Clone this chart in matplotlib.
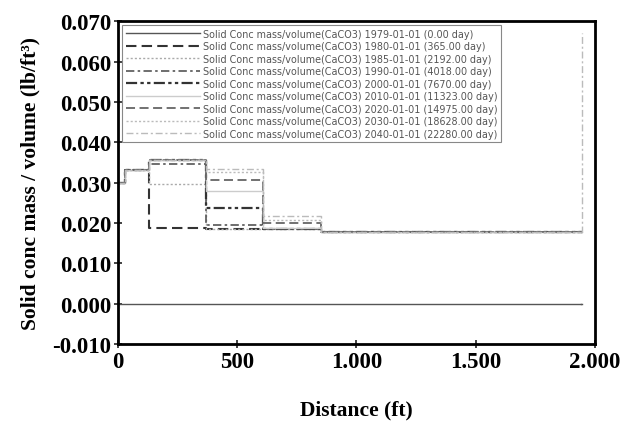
import matplotlib
matplotlib.use("Agg")
import matplotlib.pyplot as plt
from matplotlib.ticker import FuncFormatter

# Cell boundaries along the flow path (ft)
cell_edges = [0, 30, 130, 370, 610, 850, 1940]

labels = [
    "Solid Conc mass/volume(CaCO3) 1979-01-01 (0.00 day)",
    "Solid Conc mass/volume(CaCO3) 1980-01-01 (365.00 day)",
    "Solid Conc mass/volume(CaCO3) 1985-01-01 (2192.00 day)",
    "Solid Conc mass/volume(CaCO3) 1990-01-01 (4018.00 day)",
    "Solid Conc mass/volume(CaCO3) 2000-01-01 (7670.00 day)",
    "Solid Conc mass/volume(CaCO3) 2010-01-01 (11323.00 day)",
    "Solid Conc mass/volume(CaCO3) 2020-01-01 (14975.00 day)",
    "Solid Conc mass/volume(CaCO3) 2030-01-01 (18628.00 day)",
    "Solid Conc mass/volume(CaCO3) 2040-01-01 (22280.00 day)",
]

# Cell-averaged solid concentration per cell (lb/ft3)
c1979 = [0.0, 0.0, 0.0, 0.0, 0.0, 0.0]
c1980 = [0.0300, 0.0330, 0.0187, 0.0184, 0.0184, 0.0177]
c1985 = [0.0300, 0.0330, 0.0297, 0.0186, 0.0184, 0.0177]
c1990 = [0.0300, 0.0330, 0.0347, 0.0195, 0.0185, 0.0177]
c2000 = [0.0300, 0.0330, 0.0357, 0.0238, 0.0186, 0.0177]
c2010 = [0.0300, 0.0330, 0.0357, 0.0279, 0.0188, 0.0177]
c2020 = [0.0300, 0.0330, 0.0357, 0.0306, 0.0199, 0.0177]
c2030 = [0.0300, 0.0330, 0.0357, 0.0326, 0.0207, 0.0177]
c2040 = [0.0300, 0.0330, 0.0357, 0.0334, 0.0217, 0.0177]

# Value in the outlet cell at the end of the path
outlet_x = 1945
outlet = [0.0, 0.0178, 0.0178, 0.0178, 0.0178, 0.0178, 0.0178, 0.0178, 0.0670]

series = [c1979, c1980, c1985, c1990, c2000, c2010, c2020, c2030, c2040]

styles = [
    dict(color="#555555", lw=1.0, ls="-"),
    dict(color="#333333", lw=1.5, ls=(0, (5, 2.5))),
    dict(color="#aaaaaa", lw=1.0, ls=(0, (1.5, 1.5))),
    dict(color="#555555", lw=1.2, ls=(0, (5, 2, 1.5, 2))),
    dict(color="#333333", lw=1.6, ls=(0, (5, 1.5, 1.5, 1.5, 1.5, 1.5))),
    dict(color="#cccccc", lw=1.0, ls="-"),
    dict(color="#666666", lw=1.3, ls=(0, (5, 2.5))),
    dict(color="#bbbbbb", lw=1.0, ls=(0, (1.5, 1.5))),
    dict(color="#bbbbbb", lw=1.0, ls=(0, (5, 2, 1.5, 2))),
]

fig = plt.figure(figsize=(6.36, 4.35), dpi=100)
ax = fig.add_axes([0.1855, 0.207, 0.75, 0.742])

for vals, end, lab, st in zip(series, outlet, labels, styles):
    ax.step(cell_edges, list(vals) + [vals[-1]], where="post", label=lab, **st)
    ax.plot([cell_edges[-1], outlet_x, outlet_x], [vals[-1], vals[-1], end], **st)

ax.set_xlim(0, 2000)
ax.set_ylim(-0.010, 0.070)
ax.set_xticks([0, 500, 1000, 1500, 2000])
ax.set_yticks([-0.010, 0.0, 0.010, 0.020, 0.030, 0.040, 0.050, 0.060, 0.070])
ax.xaxis.set_major_formatter(FuncFormatter(lambda v, p: f"{int(v):,}".replace(",", ".")))
ax.yaxis.set_major_formatter(FuncFormatter(lambda v, p: f"{v:.3f}"))

serif = ["Liberation Serif", "DejaVu Serif"]
for t in ax.get_xticklabels() + ax.get_yticklabels():
    t.set_fontfamily(serif)
    t.set_fontweight("bold")
    t.set_fontsize(16.5)
ax.tick_params(axis="both", direction="inout", length=6, width=1.2, pad=2, color="#222222")

for sp in ax.spines.values():
    sp.set_linewidth(2.0)
    sp.set_color("black")

ax.set_xlabel("Distance (ft)", family=serif, fontweight="bold", fontsize=15.5, labelpad=20)
ax.set_ylabel("Solid conc mass / volume (lb/ft³)", family=serif, fontweight="bold",
              fontsize=15.5, labelpad=8)

leg = ax.legend(loc="upper left", fontsize=6.9, handlelength=7.8, handletextpad=0.3,
                labelspacing=0.26, borderpad=0.35, borderaxespad=0.45, frameon=True,
                fancybox=False, edgecolor="#888888", framealpha=1)
leg.get_frame().set_linewidth(0.8)
for t in leg.get_texts():
    t.set_color("#555555")

fig.savefig("out.png", dpi=100)
